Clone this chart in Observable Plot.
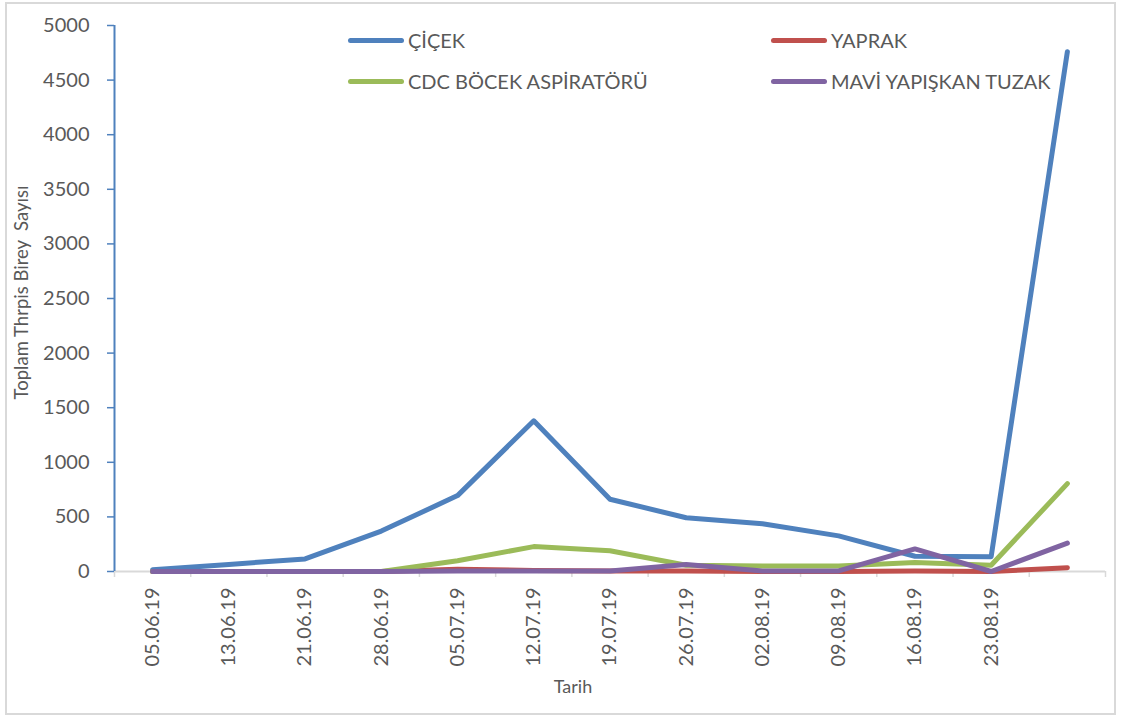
<!DOCTYPE html>
<html>
<head>
<meta charset="utf-8">
<script src="https://cdn.jsdelivr.net/npm/d3@7"></script>
<script src="https://cdn.jsdelivr.net/npm/@observablehq/plot@0.6"></script>
<style>
  html, body { margin: 0; padding: 0; background: #fff; }
  #wrap { position: relative; width: 1124px; height: 720px; font-family: Lato, "Open Sans", sans-serif; }
  #border { position: absolute; left: 5px; top: 2px; width: 1111px; height: 713px; border: 2px solid #d9d9d9; box-sizing: border-box; pointer-events: none; }
  #chart { position: absolute; left: 0; top: 0; }
  #chart svg text { white-space: pre; }
  .legend { position: absolute; left: 0; top: 0; }
  .item { position: absolute; display: flex; align-items: center; color: #595959; font-size: 20px; white-space: nowrap; }
  .sw { display: inline-block; width: 56px; height: 5px; border-radius: 3px; margin-right: 4px; }
</style>
</head>
<body>
<div id="wrap">
  <div id="chart"></div>
  <div class="legend" id="legend"></div>
  <div id="border"></div>
</div>
<script>
// Sampling dates (the last sampling has no label on the axis)
const dates = ["05.06.19", "13.06.19", "21.06.19", "28.06.19", "05.07.19", "12.07.19",
               "19.07.19", "26.07.19", "02.08.19", "09.08.19", "16.08.19", "23.08.19", ""];

// Thrips counts per sampling method
const seriesNames = ["ÇİÇEK", "YAPRAK", "CDC BÖCEK ASPİRATÖRÜ", "MAVİ YAPIŞKAN TUZAK"];
const cicek  = [15, 65, 115, 370, 695, 1380, 662, 492, 438, 326, 140, 136, 4760];
const yaprak = [0, 0, 0, 0, 20, 10, 5, 5, 0, 0, 5, 0, 35];
const cdc    = [0, 0, 0, 0, 98, 228, 190, 57, 50, 50, 82, 57, 805];
const mavi   = [0, 0, 0, 0, 5, 5, 5, 65, 5, 5, 207, 0, 260];
const seriesColors = ["#4f81bd", "#c0504d", "#9bbb59", "#8064a2"];

const yTicks = [0, 500, 1000, 1500, 2000, 2500, 3000, 3500, 4000, 4500, 5000];
const yTitle = "Toplam Thrpis Birey  Sayısı";
const xTitle = "Tarih";

// Long table built from the arrays above
const seriesValues = [cicek, yaprak, cdc, mavi];
const rows = seriesNames.flatMap((name, s) =>
  seriesValues[s].map((v, i) => ({series: name, i, v})));

const n = dates.length;
const labelIdx = d3.range(n).filter(i => dates[i] !== "");
const bounds = d3.range(n + 1).map(k => k - 0.5);

const chart = Plot.plot({
  width: 1124,
  height: 720,
  marginLeft: 114,
  marginRight: 19,
  marginTop: 25,
  marginBottom: 149,
  style: {fontFamily: "Lato, 'Open Sans', sans-serif", color: "#595959", background: "transparent"},
  x: {type: "linear", domain: [-0.5, n - 0.5]},
  y: {domain: [0, 5000]},
  color: {domain: seriesNames, range: seriesColors},
  marks: [
    // category boundary ticks below the baseline
    Plot.axisX({ticks: bounds, tickSize: 6, tickFormat: () => "", stroke: "#d9d9d9", strokeWidth: 1.5, label: null}),
    // rotated date labels
    Plot.axisX({ticks: labelIdx, tickSize: 0, tickPadding: 16, tickRotate: -90,
                tickFormat: i => dates[i], fontSize: 20, fill: "#595959", label: null}),
    Plot.ruleY([0], {stroke: "#d9d9d9", strokeWidth: 2}),
    // value axis: blue line with ticks, grey labels
    Plot.axisY({ticks: yTicks, tickSize: 7, tickFormat: () => "", stroke: "#4f81bd", strokeWidth: 1.5, label: null}),
    Plot.axisY({ticks: yTicks, tickSize: 0, tickPadding: 25, tickFormat: d => String(d),
                fontSize: 20, fill: "#595959", label: null}),
    Plot.ruleX([-0.5], {stroke: "#4f81bd", strokeWidth: 2}),
    Plot.lineY(rows, {x: "i", y: "v", z: "series", stroke: "series", strokeWidth: 5,
                      strokeLinejoin: "round", strokeLinecap: "round"}),
    Plot.text([yTitle], {frameAnchor: "left", textAnchor: "middle", rotate: -90, dx: -92, dy: -6,
                         fontSize: 18.5, fill: "#595959"}),
    Plot.text([xTitle], {frameAnchor: "bottom", dx: -37, dy: 121, fontSize: 18, fill: "#595959"})
  ]
});
document.getElementById("chart").appendChild(chart);

// Legend in two columns
const legend = document.getElementById("legend");
const legendPos = [[348, 28], [771, 28], [348, 69], [771, 69]];
seriesNames.forEach((name, k) => {
  const item = document.createElement("div");
  item.className = "item";
  item.style.left = legendPos[k][0] + "px";
  item.style.top = legendPos[k][1] + "px";
  const sw = document.createElement("span");
  sw.className = "sw";
  sw.style.background = seriesColors[k];
  item.appendChild(sw);
  item.appendChild(document.createTextNode(name));
  legend.appendChild(item);
});
</script>
</body>
</html>
